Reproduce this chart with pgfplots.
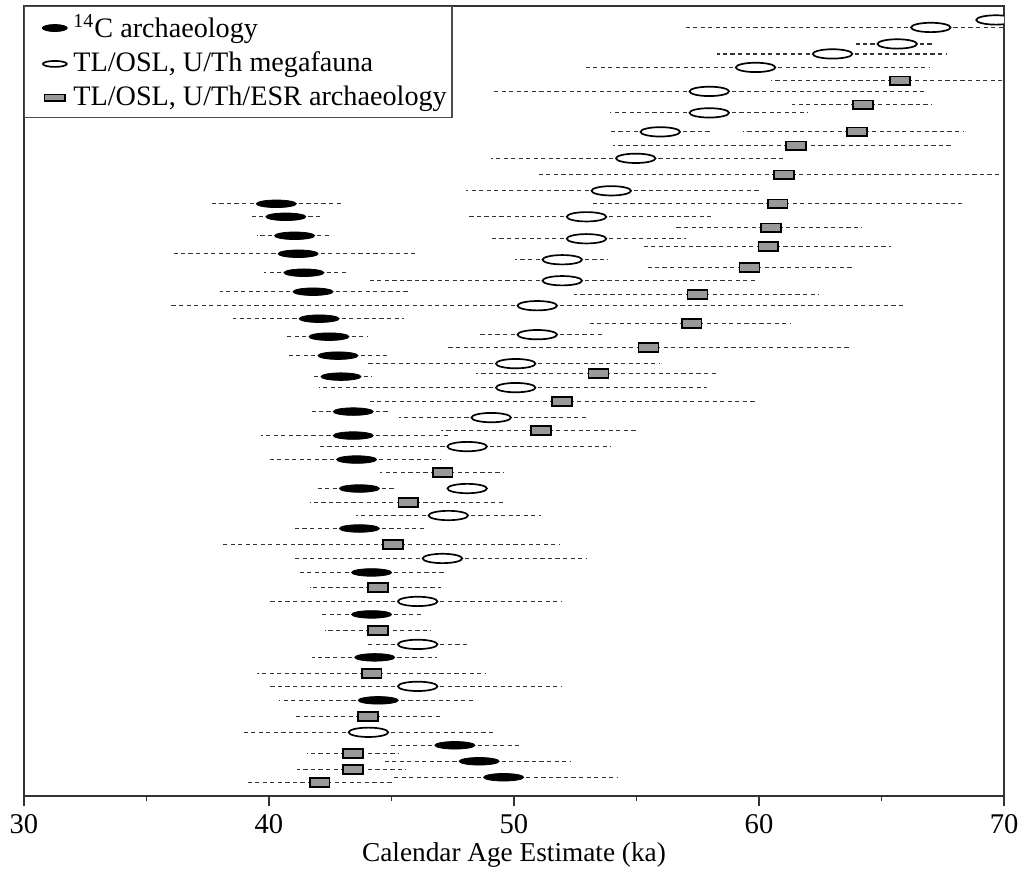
\documentclass[border=0pt]{standalone}
\usepackage{fontspec}
\setmainfont{Liberation Serif}
\usepackage{pgfplots}
\usepackage{pgfplotstable}
\pgfplotsset{compat=1.18}
\usetikzlibrary{calc}

\pgfdeclareplotmark{cellipse}{\pgfpathellipse{\pgfpointorigin}{\pgfqpoint{7.7pt}{0pt}}{\pgfqpoint{0pt}{1.45pt}}\pgfusepathqfillstroke}
\pgfdeclareplotmark{oellipse}{\pgfpathellipse{\pgfpointorigin}{\pgfqpoint{7.6pt}{0pt}}{\pgfqpoint{0pt}{1.8pt}}\pgfusepathqfillstroke}
\pgfdeclareplotmark{grect}{\pgfpathrectangle{\pgfqpoint{-3.83pt}{-1.7pt}}{\pgfqpoint{7.66pt}{3.4pt}}\pgfusepathqfillstroke}

% 14C archaeology: x = age (ka), y = row position, em/ep = lower/upper error
\pgfplotstableread{
x y em ep
40.30 204 2.62 2.72
40.69 217 1.52 1.51
41.05 236 1.54 1.50
41.19 254 5.07 4.89
41.43 273 1.64 1.77
41.80 292 3.78 3.87
42.05 319 3.52 3.48
42.45 337 1.81 1.59
42.82 356 2.04 2.04
42.94 377 1.14 1.24
43.44 412 1.67 1.46
43.44 436 3.78 3.86
43.58 460 3.55 3.45
43.69 489 1.69 1.44
43.69 529 2.64 2.62
44.19 573 3.05 3.00
44.19 615 2.03 2.05
44.32 658 2.55 2.54
44.46 701 4.05 3.89
47.59 746 2.69 2.63
48.58 762 3.89 3.75
49.58 778 4.55 4.68
}\Cdata

% TL/OSL, U/Th megafauna
\pgfplotstableread{
x y em ep
69.67 20 0.67 2.33
67.01 27.5 10.06 4.99
65.64 44 1.67 1.42
63.00 54 4.70 4.64
59.86 67.5 7.03 7.08
57.97 91.5 8.90 8.89
57.97 113 4.05 4.00
55.97 132 2.05 2.07
54.97 158.5 5.90 5.99
53.97 191 5.92 6.03
52.96 217 4.91 5.08
52.96 239 3.89 4.06
51.97 260 1.92 1.86
51.97 281 7.93 7.90
50.95 306 14.93 14.97
50.95 335 2.38 2.67
50.07 364 6.03 5.86
50.07 388 8.04 7.81
49.07 418 3.77 3.90
48.09 447 6.09 5.85
48.09 489 0.50 0.50
47.32 516 3.76 3.79
47.08 559 6.03 5.89
46.07 602 6.04 5.88
46.07 645 2.03 2.05
46.07 687 6.04 5.88
44.06 733 5.12 5.08
}\Mdata

% TL/OSL, U/Th/ESR archaeology
\pgfplotstableread{
x y em ep
65.76 81 5.26 6.24
64.25 105 2.89 2.81
64.00 132 4.67 4.34
61.50 146 7.47 6.42
61.02 175 10.07 10.98
60.76 204 7.55 7.54
60.49 228 3.88 3.73
60.38 247 5.20 5.00
59.61 268 4.15 4.21
57.49 295 5.06 4.97
57.25 324 4.28 4.02
55.49 348 8.19 8.29
53.45 374 5.02 4.90
51.96 402 7.92 7.91
51.10 431 4.07 3.91
47.09 473 2.57 2.48
45.69 503 4.03 3.99
45.06 545 7.04 6.82
44.44 588 2.78 2.59
44.44 631 2.17 2.18
44.19 674 4.68 4.65
44.04 717 2.99 3.06
43.42 754 1.87 1.88
43.42 770 2.26 2.16
42.07 783 3.06 2.99
}\Adata

\begin{document}
\begin{tikzpicture}
\begin{axis}[
  name=ax,
  width=377.3pt, height=304.2pt, scale only axis,
  xmin=30, xmax=70, ymin=6, ymax=797, y dir=reverse,
  xtick={30,40,50,60,70}, minor xtick={35,45,55,65},
  ytick=\empty,
  xtick pos=lower, tick align=outside,
  major tick length=3.6pt, minor tick length=2pt,
  axis line style={black!80, line width=0.6pt},
  tick style={black!80, line width=0.6pt},
  clip marker paths=true,
  /pgf/number format/assume math mode=true,
  ticklabel style={font=\fontsize{11}{12}\selectfont},
  xlabel={Calendar Age Estimate (ka)},
  xlabel style={at={(axis description cs:0.5,0)}, anchor=base, yshift=-25pt, font=\fontsize{10.5}{12}\selectfont},
  legend cell align=left,
  legend style={at={(axis description cs:0,1)}, anchor=north west, draw=black!70, line width=0.5pt, fill=white,
    font=\fontsize{10.85}{13}\selectfont, row sep=0pt, inner ysep=1pt, inner xsep=0pt},
  errstyle/.style={forget plot, draw=none, no markers,
    error bars/.cd, x dir=both, x explicit, error mark=none,
    error bar style={draw=black!80, line width=0.45pt, dash pattern=on 1.6pt off 1.3pt}},
]
\addplot[errstyle] table[x=x, y=y, x error minus=em, x error plus=ep] {\Cdata};
\addplot[errstyle] table[x=x, y=y, x error minus=em, x error plus=ep] {\Mdata};
\addplot[errstyle] table[x=x, y=y, x error minus=em, x error plus=ep] {\Adata};

\addplot[only marks, mark=cellipse, mark options={fill=black, draw=black, line width=0.3pt},
  legend image code/.code={\path (0pt,0pt) (16.3pt,0pt);
    \draw[overlay, fill=black, line width=0.3pt] (11.4pt,0pt) ellipse [x radius=4.8pt, y radius=1.35pt];}]
  table[x=x, y=y] {\Cdata};
\addlegendentry{\textsuperscript{14}C archaeology}
\addplot[only marks, mark=oellipse, mark options={fill=white, draw=black, line width=0.65pt},
  legend image code/.code={\path (0pt,0pt) (16.3pt,0pt);
    \draw[overlay, fill=white, line width=0.65pt] (11.4pt,0pt) ellipse [x radius=4.6pt, y radius=1.15pt];}]
  table[x=x, y=y] {\Mdata};
\addlegendentry{TL/OSL, U/Th megafauna}
\addplot[only marks, mark=grect, mark options={fill=black!40, draw=black, line width=0.65pt},
  legend image code/.code={\path (0pt,0pt) (16.3pt,0pt);
    \draw[overlay, fill=black!40, line width=0.65pt] (7.4pt,-1.3pt) rectangle (15.4pt,1.3pt);}]
  table[x=x, y=y] {\Adata};
\addlegendentry{TL/OSL, U/Th/ESR archaeology}
\end{axis}
\path ($(ax.south west)+(-9.2pt,-26.9pt)$) rectangle ($(ax.north east)+(8.5pt,2.3pt)$);
\end{tikzpicture}
\end{document}
